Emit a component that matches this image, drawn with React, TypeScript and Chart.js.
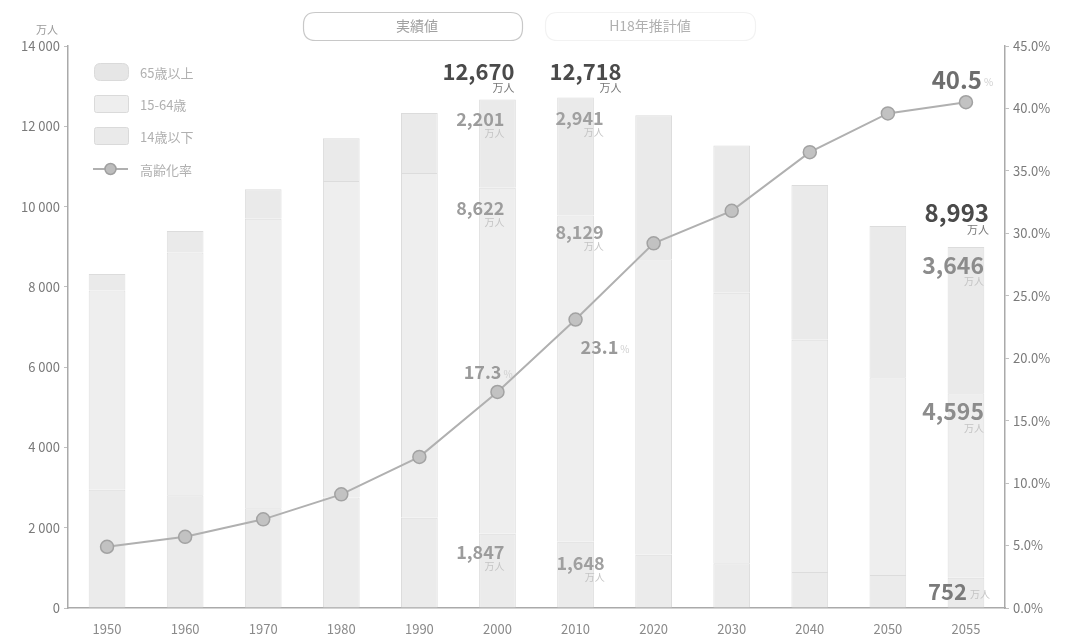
import React, { useEffect, useRef } from 'react';
import { Chart, registerables } from 'chart.js';

Chart.register(...registerables);

const years = ['1950', '1960', '1970', '1980', '1990', '2000', '2010', '2020', '2030', '2040', '2050', '2055'];
const under14 = [2943, 2807, 2482, 2751, 2249, 1847, 1648, 1324, 1115, 897, 821, 752];
const age15to64 = [4966, 6047, 7212, 7883, 8590, 8622, 8129, 7363, 6740, 5787, 4930, 4595];
const over65 = [411, 535, 739, 1065, 1489, 2201, 2941, 3590, 3667, 3853, 3764, 3646];
const agingRate = [4.9, 5.7, 7.1, 9.1, 12.1, 17.3, 23.1, 29.2, 31.8, 36.5, 39.6, 40.5];
const highlightIdx = [5, 6, 11];
const legendLabels = ['65歳以上', '15-64歳', '14歳以下', '高齢化率'];
const headerLabels = ['実績値', 'H18年推計値'];

const FONT = '"Noto Sans CJK JP", "Noto Sans", sans-serif';

type Seg = { dx: number; dy: number; size: number; color: string; inline?: boolean };
type LStyle = {
  align: 'right' | 'center';
  segs: Seg[];
  total: { dx: number; dy: number; size: number; color: string };
  rate: { align: 'left' | 'right'; dx: number; dy: number; size: number; color: string };
};

const labelStyles: Record<number, LStyle> = {
  5: {
    align: 'right',
    segs: [
      { dx: 7, dy: 18, size: 18, color: '#9c9c9c' },
      { dx: 7, dy: 20, size: 18, color: '#9c9c9c' },
      { dx: 7, dy: 20, size: 18, color: '#9c9c9c' },
    ],
    total: { dx: 17, dy: -28, size: 22, color: '#4a4a4a' },
    rate: { align: 'right', dx: 4, dy: -20, size: 18, color: '#9a9a9a' },
  },
  6: {
    align: 'center',
    segs: [
      { dx: 5, dy: 21, size: 18, color: '#a0a0a0' },
      { dx: 4, dy: 17, size: 18, color: '#a0a0a0' },
      { dx: 4, dy: 21, size: 18, color: '#a0a0a0' },
    ],
    total: { dx: 10, dy: -26, size: 22, color: '#4a4a4a' },
    rate: { align: 'left', dx: 5, dy: 28, size: 18, color: '#9a9a9a' },
  },
  11: {
    align: 'right',
    segs: [
      { dx: 1, dy: 14, size: 22, color: '#7a7a7a', inline: true },
      { dx: 18, dy: 18, size: 23, color: '#8c8c8c' },
      { dx: 18, dy: 18, size: 23, color: '#8c8c8c' },
    ],
    total: { dx: 23, dy: -34, size: 24, color: '#4a4a4a' },
    rate: { align: 'right', dx: 16, dy: -22, size: 24, color: '#6e6e6e' },
  },
};

const fmt = (v: number) => v.toLocaleString('en-US');

function roundRect(ctx: CanvasRenderingContext2D, x: number, y: number, w: number, h: number, r: number) {
  ctx.beginPath();
  ctx.moveTo(x + r, y);
  ctx.lineTo(x + w - r, y);
  ctx.quadraticCurveTo(x + w, y, x + w, y + r);
  ctx.lineTo(x + w, y + h - r);
  ctx.quadraticCurveTo(x + w, y + h, x + w - r, y + h);
  ctx.lineTo(x + r, y + h);
  ctx.quadraticCurveTo(x, y + h, x, y + h - r);
  ctx.lineTo(x, y + r);
  ctx.quadraticCurveTo(x, y, x + r, y);
  ctx.closePath();
}

const overlayPlugin = {
  id: 'overlay',
  afterDatasetsDraw(chart: any) {
    const ctx: CanvasRenderingContext2D = chart.ctx;
    const yS = chart.scales.y;
    ctx.save();

    // header buttons
    ctx.strokeStyle = '#c8c8c8';
    ctx.lineWidth = 1.2;
    roundRect(ctx, 303.5, 12.5, 219, 28, 12);
    ctx.stroke();
    ctx.strokeStyle = '#f2f2f2';
    roundRect(ctx, 545.5, 12.5, 210, 28, 12);
    ctx.stroke();
    ctx.fillStyle = '#a0a0a0';
    ctx.font = `14px ${FONT}`;
    ctx.textAlign = 'center';
    ctx.textBaseline = 'middle';
    ctx.fillText(headerLabels[0], 417, 26);
    ctx.fillStyle = '#b0b0b0';
    ctx.fillText(headerLabels[1], 650, 26);

    // unit
    ctx.fillStyle = '#999';
    ctx.font = `11px ${FONT}`;
    ctx.fillText('万人', 47, 30);

    // legend
    const ly = [72, 104, 136, 169];
    const fills = ['#e6e6e6', '#eeeeee', '#eaeaea'];
    for (let k = 0; k < 3; k++) {
      ctx.fillStyle = fills[k];
      ctx.strokeStyle = '#dadada';
      ctx.lineWidth = 1;
      roundRect(ctx, 94.5, ly[k] - 8.5, 34, 17, k === 0 ? 6 : 2);
      ctx.fill();
      ctx.stroke();
    }
    ctx.strokeStyle = '#b0b0b0';
    ctx.lineWidth = 2;
    ctx.beginPath();
    ctx.moveTo(93, ly[3]);
    ctx.lineTo(128, ly[3]);
    ctx.stroke();
    ctx.fillStyle = '#bdbdbd';
    ctx.strokeStyle = '#a0a0a0';
    ctx.lineWidth = 1.5;
    ctx.beginPath();
    ctx.arc(110.5, ly[3], 5.5, 0, Math.PI * 2);
    ctx.fill();
    ctx.stroke();
    ctx.fillStyle = '#b0b0b0';
    ctx.font = `13px ${FONT}`;
    ctx.textAlign = 'left';
    for (let k = 0; k < 4; k++) ctx.fillText(legendLabels[k], 140, ly[k] + 1);

    // data labels
    const barMeta = chart.getDatasetMeta(0);
    const lineMeta = chart.getDatasetMeta(3);
    for (const i of highlightIdx) {
      const st = labelStyles[i];
      const bx = barMeta.data[i].x;
      const vals = [under14[i], age15to64[i], over65[i]];
      let cum = 0;
      for (let s = 0; s < 3; s++) {
        cum += vals[s];
        const sg = st.segs[s];
        const ty = yS.getPixelForValue(cum) + sg.dy;
        ctx.font = `bold ${sg.size}px ${FONT}`;
        ctx.fillStyle = sg.color;
        const txt = fmt(vals[s]);
        const w = ctx.measureText(txt).width;
        let right: number;
        if (st.align === 'center') {
          ctx.textAlign = 'center';
          ctx.fillText(txt, bx + sg.dx, ty);
          right = bx + sg.dx + w / 2;
        } else {
          ctx.textAlign = 'right';
          ctx.fillText(txt, bx + sg.dx, ty);
          right = bx + sg.dx;
        }
        ctx.font = `10px ${FONT}`;
        ctx.fillStyle = '#c4c4c4';
        if (sg.inline) {
          ctx.textAlign = 'left';
          ctx.fillText('万人', right + 3, ty + 2);
        } else {
          ctx.textAlign = 'right';
          ctx.fillText('万人', right, ty + sg.size * 0.5 + 5);
        }
      }
      // total
      const tot = vals[0] + vals[1] + vals[2];
      const tt = st.total;
      const ty = yS.getPixelForValue(tot) + tt.dy;
      ctx.font = `bold ${tt.size}px ${FONT}`;
      ctx.fillStyle = tt.color;
      const ttxt = fmt(tot);
      const tw = ctx.measureText(ttxt).width;
      let tright: number;
      if (st.align === 'center') {
        ctx.textAlign = 'center';
        ctx.fillText(ttxt, bx + tt.dx, ty);
        tright = bx + tt.dx + tw / 2;
      } else {
        ctx.textAlign = 'right';
        ctx.fillText(ttxt, bx + tt.dx, ty);
        tright = bx + tt.dx;
      }
      ctx.font = `11px ${FONT}`;
      ctx.fillStyle = '#777';
      ctx.textAlign = 'right';
      ctx.fillText('万人', tright, ty + tt.size * 0.5 + 5);

      // rate
      const pt = lineMeta.data[i];
      const rs = st.rate;
      const rtxt = agingRate[i].toFixed(1);
      ctx.font = `bold ${rs.size}px ${FONT}`;
      ctx.fillStyle = rs.color;
      const rw = ctx.measureText(rtxt).width;
      const ry = pt.y + rs.dy;
      const rx = pt.x + rs.dx;
      ctx.textAlign = rs.align;
      ctx.fillText(rtxt, rx, ry);
      const rEnd = rs.align === 'right' ? rx : rx + rw;
      ctx.font = `10px ${FONT}`;
      ctx.fillStyle = '#cfcfcf';
      ctx.textAlign = 'left';
      ctx.fillText('%', rEnd + 2, ry + 2);
    }
    ctx.restore();
  },
};

export default function App() {
  const ref = useRef<HTMLCanvasElement>(null);
  useEffect(() => {
    if (!ref.current) return;
    const barCommon = {
      type: 'bar' as const,
      stack: 'pop',
      yAxisID: 'y',
      borderColor: '#dcdcdc',
      borderWidth: 1,
      barPercentage: 0.47,
      categoryPercentage: 1,
      order: 2,
    };
    const chart = new Chart(ref.current, {
      type: 'bar',
      data: {
        labels: years,
        datasets: [
          { ...barCommon, label: legendLabels[2], data: under14, backgroundColor: '#ebebeb' },
          { ...barCommon, label: legendLabels[1], data: age15to64, backgroundColor: '#eeeeee' },
          { ...barCommon, label: legendLabels[0], data: over65, backgroundColor: '#eaeaea' },
          {
            type: 'line' as const,
            label: legendLabels[3],
            data: agingRate,
            yAxisID: 'y1',
            borderColor: '#b0b0b0',
            borderWidth: 2,
            pointRadius: 6.5,
            pointBackgroundColor: '#c2c2c2',
            pointBorderColor: '#a2a2a2',
            pointBorderWidth: 1.5,
            tension: 0,
            order: 0,
          } as any,
        ],
      },
      options: {
        animation: false,
        responsive: false,
        maintainAspectRatio: false,
        layout: { padding: { top: 46, left: 0, right: 0, bottom: 0 } },
        plugins: { legend: { display: false }, tooltip: { enabled: false } },
        scales: {
          x: {
            offset: true,
            grid: { display: false },
            border: { color: '#aaaaaa', width: 1.5 },
            ticks: { color: '#8a8a8a', font: { family: FONT, size: 13 }, padding: 5 },
            afterFit: (s: any) => { s.height = 30; },
          },
          y: {
            position: 'left',
            stacked: true,
            min: 0,
            max: 14000,
            grid: { drawOnChartArea: false, drawTicks: true, tickLength: 4, color: '#c0c0c0' },
            border: { color: '#aaaaaa', width: 1.5 },
            ticks: {
              stepSize: 2000,
              color: '#7a7a7a',
              font: { family: FONT, size: 13 },
              padding: 4,
              callback: (v: any) => Number(v).toLocaleString('en-US').replace(/,/g, ' '),
            },
            afterFit: (s: any) => { s.width = 68; },
          },
          y1: {
            position: 'right',
            min: 0,
            max: 45,
            grid: { drawOnChartArea: false, drawTicks: true, tickLength: 4, color: '#c0c0c0' },
            border: { color: '#aaaaaa', width: 1.5 },
            ticks: {
              stepSize: 5,
              color: '#7a7a7a',
              font: { family: FONT, size: 13 },
              padding: 4,
              callback: (v: any) => Number(v).toFixed(1) + '%',
            },
            afterFit: (s: any) => { s.width = 60; },
          },
        },
      },
      plugins: [overlayPlugin],
    } as any);
    return () => chart.destroy();
  }, []);
  return (
    <div style={{ position: 'absolute', left: 0, top: 0, width: 1065, height: 638, background: '#fff' }}>
      <canvas ref={ref} width={1065} height={638} style={{ width: 1065, height: 638, display: 'block' }} />
    </div>
  );
}
